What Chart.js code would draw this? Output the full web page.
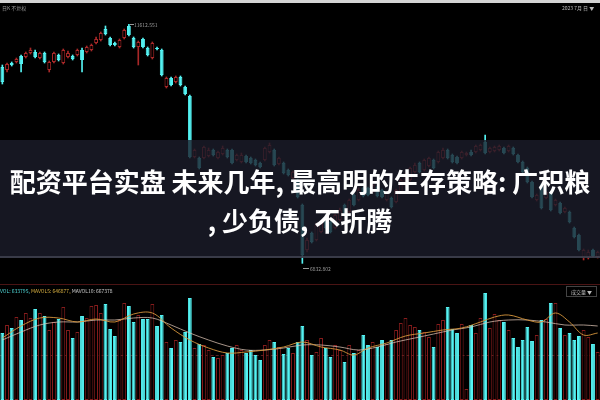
<!DOCTYPE html>
<html>
<head>
<meta charset="utf-8">
<script src="https://cdn.jsdelivr.net/npm/chart.js@4.4.0/dist/chart.umd.min.js"></script>
<style>
  html, body { margin: 0; padding: 0; background: #000; }
  #wrap { position: relative; width: 600px; height: 400px; overflow: hidden; background: #000;
          font-family: "Noto Sans CJK SC", "Noto Sans", sans-serif; }
  #price { position: absolute; left: 0; top: 0; }
  #vol { position: absolute; left: 0; top: 284px; }
  .lbl { position: absolute; font-size: 5px; line-height: 1; color: #9a9a9a; white-space: nowrap; }
  .hline { position: absolute; left: 0; width: 600px; height: 0; }
  #band { position: absolute; left: 0; top: 140px; width: 600px; height: 116px;
          background: rgba(27, 29, 42, 0.8); border-bottom: 2px solid rgba(70, 72, 86, 0.75); }
  .title { position: absolute; left: 0; width: 600px; text-align: center; color: #fff;
           font-weight: 700; font-size: 26px; line-height: 1; white-space: nowrap; }
</style>
</head>
<body>
<div id="wrap">
  <div style="position:absolute;left:0;top:0;width:600px;height:3px;background:#d4d4d4;"></div>
  <canvas id="price" width="600" height="282"></canvas>
  <div class="hline" style="top:284px;border-top:1px solid #4a1414;"></div>
  <div class="hline" style="top:355px;border-top:1px dashed #5a2020;"></div>
  <canvas id="vol" width="600" height="116"></canvas>

  <div class="lbl" style="left:2px;top:5px;">日K 不复权</div>
  <div class="lbl" style="left:562px;top:5px;color:#bbb;">2023 7月 日 ▼</div>
  <div class="hline" style="left:130px;width:4px;top:24px;border-top:1px solid #999;"></div>
  <div class="lbl" style="left:134px;top:22px;">11612.551</div>
  <div class="hline" style="left:303px;width:6px;top:268px;border-top:1px solid #999;"></div>
  <div class="lbl" style="left:310px;top:266px;">6832.802</div>
  <div class="lbl" style="left:0;top:288px;">
    <span style="color:#4fd8d8;">VOL: 633795,</span>
    <span style="color:#d8b040;">MAVOL5: 646877,</span>
    <span style="color:#cfcfcf;">MAVOL10: 667378</span>
  </div>
  <div class="lbl" style="left:566px;top:286px;padding:2px 4px;border:1px solid #444;color:#bbb;">成交量 ▼</div>

  <div id="band"></div>
  <div class="title" style="top:168px;">配资平台实盘 未来几年, 最高明的生存策略: 广积粮</div>
  <div class="title" style="top:207px;">, 少负债, 不折腾</div>
</div>

<script>
// daily candles (index 0 = leftmost)
const opens = [
  10760, 10700, 10840, 10860, 10980, 10960, 11040, 11060, 10940, 11040,
  10700, 10860, 11000, 10840, 10960, 10980, 11000, 11100, 11060, 11100,
  11240, 11300, 11520, 11340, 11240, 11160, 11340, 11580, 11340, 11160,
  11320, 11140, 10940, 11140, 11100, 10360, 10540, 10460, 10560, 10360,
  10180, 8960, 8940, 8940, 8980, 9100, 8940, 9020, 9100, 9100,
  8900, 8860, 8980, 8940, 8900, 8840, 8900, 9060, 9100, 8820,
  8840, 8700, 8540, 8500, 8000, 7100, 7440, 7300, 7460, 7740,
  7660, 7540, 7700, 8000, 7860, 8200, 8100, 8340, 8340, 8260,
  8360, 8300, 8100, 8140, 8060, 8260, 8400, 8500, 8660, 8840,
  8700, 8780, 8900, 8860, 8940, 9100, 9000, 8960, 8940, 9000,
  9060, 9060, 9100, 9260, 9060, 9080, 9100, 9140, 9080, 9140,
  9000, 8860, 8740, 8460, 8100, 8400, 8140, 8240, 8000, 8040,
  7860, 7860, 7540, 7400, 6940, 6940, 7100, 6960
];
const closes = [
  10460, 10820, 10800, 10920, 10820, 11040, 11100, 10960, 11040, 10860,
  10860, 11040, 10900, 11100, 11040, 10920, 11100, 10900, 11160, 11200,
  11320, 11440, 11420, 11200, 11200, 11300, 11500, 11400, 11160, 11260,
  11160, 11000, 11240, 11120, 10600, 10540, 10400, 10560, 10400, 10220,
  8960, 9100, 8740, 9160, 9100, 9000, 9060, 9140, 8960, 8840,
  9000, 9000, 8860, 8840, 8800, 8760, 9140, 9200, 8800, 8940,
  8640, 8600, 8660, 8160, 7000, 7300, 7260, 7600, 7660, 7540,
  7460, 7800, 7900, 7800, 8100, 8000, 8300, 8180, 8200, 8400,
  8180, 8160, 8260, 7960, 8300, 8500, 8600, 8740, 8800, 8660,
  8900, 8940, 8740, 9060, 9100, 8940, 8860, 8840, 9060, 9040,
  9000, 9180, 9200, 9040, 9140, 9160, 9180, 9040, 9180, 9020,
  8860, 8660, 8460, 8160, 8200, 7940, 8260, 7900, 8100, 7840,
  7940, 7660, 7360, 7100, 7100, 7060, 6980, 7060
];
const highs = [
  10800, 10840, 10860, 10940, 11000, 11060, 11140, 11100, 11060, 11060,
  10880, 11060, 11020, 11120, 11080, 11000, 11120, 11140, 11180, 11220,
  11360, 11460, 11580, 11360, 11260, 11320, 11520, 11612.551, 11360, 11280,
  11340, 11160, 11260, 11160, 11120, 10560, 10560, 10580, 10580, 10380,
  10200, 9120, 8960, 9180, 9140, 9120, 9080, 9180, 9120, 9120,
  9020, 9040, 9000, 8960, 8920, 8860, 9160, 9240, 9120, 8960,
  8860, 8720, 8680, 8520, 8020, 7340, 7460, 7640, 7700, 7760,
  7680, 7820, 7940, 8020, 8120, 8220, 8340, 8360, 8360, 8420,
  8380, 8320, 8280, 8160, 8320, 8520, 8640, 8760, 8840, 8860,
  8920, 8960, 8920, 9080, 9140, 9120, 9020, 8980, 9080, 9060,
  9100, 9200, 9220, 9400, 9160, 9180, 9200, 9160, 9200, 9160,
  9020, 8880, 8760, 8480, 8220, 8420, 8280, 8260, 8120, 8060,
  7960, 7880, 7560, 7420, 7120, 7100, 7120, 7080
];
const lows = [
  10420, 10660, 10780, 10840, 10660, 10940, 11020, 10940, 10920, 10840,
  10660, 10840, 10880, 10820, 10940, 10900, 10980, 10660, 11040, 11080,
  11220, 11280, 11400, 11180, 11180, 11140, 11320, 11380, 11140, 10800,
  11140, 10980, 10920, 11100, 10580, 10340, 10380, 10440, 10380, 10200,
  8940, 8940, 8720, 8920, 8960, 8980, 8920, 9000, 8940, 8820,
  8880, 8840, 8840, 8820, 8780, 8740, 8880, 9040, 8780, 8800,
  8620, 8580, 8520, 8140, 6832.802, 7060, 7240, 7280, 7440, 7520,
  7440, 7520, 7680, 7780, 7840, 7980, 8080, 8160, 8180, 8240,
  8160, 8140, 8080, 7940, 8040, 8240, 8380, 8480, 8640, 8640,
  8680, 8760, 8720, 8840, 8920, 8920, 8840, 8820, 8920, 8980,
  8980, 9040, 9080, 9020, 9040, 9060, 9080, 9020, 9060, 9000,
  8840, 8640, 8440, 8140, 8080, 7920, 8120, 7880, 7980, 7820,
  7840, 7640, 7340, 7080, 6900, 6920, 6960, 6940
];
const volumes = [
  670000, 750000, 720000, 830000, 800000, 870000, 820000, 910000, 870000, 840000,
  700000, 780000, 810000, 930000, 700000, 620000, 680000, 840000, 820000, 940000,
  950000, 870000, 960000, 710000, 640000, 800000, 970000, 940000, 780000, 850000,
  810000, 810000, 960000, 740000, 850000, 580000, 520000, 600000, 580000, 680000,
  1020000, 520000, 560000, 550000, 500000, 430000, 420000, 450000, 470000, 520000,
  550000, 500000, 470000, 500000, 450000, 400000, 550000, 600000, 580000, 530000,
  460000, 520000, 470000, 580000, 740000, 600000, 450000, 480000, 620000, 520000,
  430000, 550000, 500000, 380000, 550000, 470000, 500000, 650000, 550000, 580000,
  530000, 600000, 560000, 600000, 700000, 770000, 820000, 750000, 730000, 700000,
  680000, 630000, 530000, 760000, 800000, 930000, 710000, 670000, 760000, 110000,
  750000, 670000, 820000, 1070000, 720000, 860000, 800000, 780000, 700000, 620000,
  530000, 600000, 730000, 590000, 650000, 800000, 810000, 970000, 970000, 720000,
  650000, 670000, 600000, 640000, 700000, 630000, 560000, 480000
];
// volume moving averages, read at sample points (candle index, volume)
const maVol5 = [
  [0, 620000], [4, 740000], [8, 820000], [12, 820000], [16, 780000], [20, 810000],
  [24, 780000], [28, 860000], [32, 870000], [36, 720000], [40, 600000], [44, 520000],
  [48, 470000], [52, 480000], [56, 500000], [60, 530000], [64, 580000], [68, 530000],
  [72, 500000], [75, 450000], [78, 520000], [82, 570000], [86, 640000], [90, 670000],
  [94, 700000], [98, 720000], [102, 780000], [105, 830000], [108, 850000], [112, 800000],
  [115, 780000], [118, 870000], [121, 780000], [124, 650000], [127, 670000]
];
const maVol10 = [
  [0, 600000], [4, 680000], [8, 750000], [12, 780000], [16, 780000], [20, 800000],
  [24, 800000], [28, 820000], [32, 820000], [36, 750000], [40, 670000], [44, 600000],
  [48, 540000], [52, 500000], [56, 500000], [60, 520000], [64, 550000], [68, 550000],
  [72, 530000], [76, 500000], [80, 530000], [84, 580000], [88, 620000], [92, 660000],
  [96, 700000], [100, 730000], [104, 780000], [108, 800000], [112, 800000], [116, 780000],
  [120, 750000], [124, 750000], [127, 740000]
];

const UP = '#a82828';
const UP_VOL = '#861c1c';
const DOWN = '#54f2f2';

const days = opens.map((_, i) => i);
const isUp = opens.map((o, i) => closes[i] >= o);

const quiet = {
  responsive: false,
  animation: false,
  events: [],
  plugins: { legend: { display: false }, tooltip: { enabled: false } }
};

new Chart(document.getElementById('price'), {
  type: 'bar',
  data: {
    labels: days,
    datasets: [
      {
        label: 'body',
        data: opens.map((o, i) => [o, closes[i]]),
        backgroundColor: isUp.map(u => u ? '#000' : DOWN),
        borderColor: isUp.map(u => u ? UP : DOWN),
        borderWidth: 1,
        borderSkipped: false,
        grouped: false,
        categoryPercentage: 1,
        barPercentage: 0.82
      },
      {
        label: 'wick',
        data: lows.map((l, i) => [l, highs[i]]),
        backgroundColor: isUp.map(u => u ? UP : DOWN),
        barThickness: 1,
        grouped: false
      }
    ]
  },
  options: {
    ...quiet,
    layout: { padding: { top: 10, bottom: 2, left: 0, right: 0 } },
    scales: {
      x: { display: false },
      y: { display: false, min: 6500, max: 11900 }
    }
  }
});

new Chart(document.getElementById('vol'), {
  type: 'bar',
  data: {
    labels: days,
    datasets: [
      {
        type: 'line',
        label: 'MAVOL5',
        data: maVol5.map(p => ({ x: p[0], y: p[1] })),
        borderColor: 'rgba(214, 150, 60, 0.9)',
        borderWidth: 1,
        pointRadius: 0,
        tension: 0.35,
        order: 0
      },
      {
        type: 'line',
        label: 'MAVOL10',
        data: maVol10.map(p => ({ x: p[0], y: p[1] })),
        borderColor: 'rgba(222, 196, 180, 0.75)',
        borderWidth: 1,
        pointRadius: 0,
        tension: 0.35,
        order: 0
      },
      {
        label: 'VOL',
        data: volumes,
        backgroundColor: isUp.map(u => u ? '#000' : DOWN),
        borderColor: isUp.map(u => u ? UP_VOL : DOWN),
        borderWidth: 1,
        borderSkipped: false,
        categoryPercentage: 1,
        barPercentage: 0.82,
        order: 1
      }
    ]
  },
  options: {
    ...quiet,
    layout: { padding: 0 },
    scales: {
      x: { display: false },
      y: { display: false, min: 0, max: 1160000 }
    }
  }
});
</script>
</body>
</html>
